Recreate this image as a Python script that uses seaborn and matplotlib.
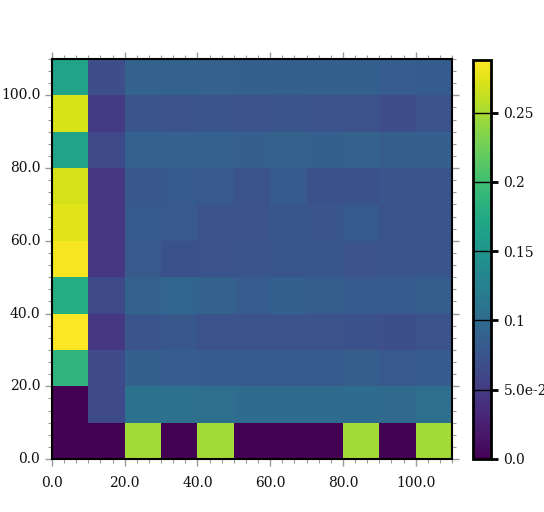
import numpy as np
import seaborn as sns
import matplotlib
matplotlib.use('Agg')
from matplotlib import pyplot as plt
from matplotlib.ticker import MultipleLocator, FuncFormatter

'''

Data: 11x11 grid, rows listed from y=0 (bottom) to y=100 (top)

'''
x_edges = [0, 10, 20, 30, 40, 50, 60, 70, 80, 90, 100, 110]
row_00 = [0.0, 0.0, 0.248, 0.0, 0.248, 0.0, 0.0, 0.0, 0.248, 0.0, 0.248]
row_10 = [0.0, 0.063, 0.107, 0.106, 0.104, 0.099, 0.099, 0.099, 0.100, 0.097, 0.103]
row_20 = [0.187, 0.065, 0.087, 0.084, 0.081, 0.081, 0.081, 0.082, 0.085, 0.079, 0.082]
row_30 = [0.288, 0.045, 0.076, 0.078, 0.072, 0.072, 0.072, 0.072, 0.071, 0.069, 0.072]
row_40 = [0.178, 0.063, 0.090, 0.093, 0.089, 0.084, 0.087, 0.085, 0.081, 0.082, 0.085]
row_50 = [0.284, 0.045, 0.079, 0.071, 0.073, 0.076, 0.077, 0.077, 0.072, 0.074, 0.075]
row_60 = [0.275, 0.045, 0.080, 0.079, 0.073, 0.073, 0.077, 0.075, 0.080, 0.074, 0.074]
row_70 = [0.269, 0.045, 0.078, 0.080, 0.079, 0.074, 0.081, 0.071, 0.071, 0.076, 0.074]
row_80 = [0.167, 0.063, 0.088, 0.088, 0.088, 0.086, 0.089, 0.087, 0.089, 0.085, 0.086]
row_90 = [0.270, 0.050, 0.076, 0.072, 0.076, 0.073, 0.075, 0.072, 0.073, 0.068, 0.072]
row_100 = [0.167, 0.068, 0.089, 0.089, 0.088, 0.087, 0.087, 0.087, 0.087, 0.084, 0.083]

axis_ticks = [0, 20, 40, 60, 80, 100]
cbar_ticks = [0.0, 0.05, 0.1, 0.15, 0.2, 0.25]
cbar_labels = ['0.0', '5.0e-2', '0.1', '0.15', '0.2', '0.25']

grid = np.array([row_00, row_10, row_20, row_30, row_40, row_50,
                 row_60, row_70, row_80, row_90, row_100])

plt.rcParams['font.family'] = ['DejaVu Serif']
plt.rcParams['font.size'] = 10

fig = plt.figure(figsize=(5.44, 5.12), dpi=100)
ax = fig.add_axes([52/544, 53/512, 400/544, 400/512])
cax = fig.add_axes([473/544, 53/512, 18/544, 399/512])

sns.heatmap(grid, ax=ax, cbar_ax=cax, cmap='viridis', vmin=0, vmax=grid.max(),
            square=False, linewidths=0)
# heatmap draws row 0 at top, flip so y grows upwards
ax.invert_yaxis()

cell = x_edges[1] - x_edges[0]
ax.set_xlim(0, len(x_edges) - 1)
ax.set_ylim(0, len(x_edges) - 1)
fmt = FuncFormatter(lambda v, pos: '%.1f' % (v * cell))
for a in [ax.xaxis, ax.yaxis]:
    a.set_major_locator(MultipleLocator(axis_ticks[1] / cell))
    a.set_minor_locator(MultipleLocator(1 / 3))
    a.set_major_formatter(fmt)
ax.set_xlabel('')
ax.set_ylabel('')
ax.tick_params(which='both', direction='out', color='#999999',
               top=True, right=True, labeltop=False, labelright=False,
               labelrotation=0)
ax.tick_params(which='major', length=5, width=1, labelsize=10, labelcolor='#111111')
ax.tick_params(axis='x', which='major', pad=7)
ax.tick_params(axis='y', which='major', pad=3.5)
ax.tick_params(which='minor', length=3, width=0.8)
for s in ax.spines.values():
    s.set_visible(True)
    s.set_color('black')
    s.set_linewidth(1.5)

# colorbar styling
cb = ax.collections[0].colorbar
cb.set_ticks(cbar_ticks)
cb.set_ticklabels(cbar_labels)
cb.outline.set_visible(True)
cb.outline.set_edgecolor('black')
cb.outline.set_linewidth(2)
cax.tick_params(direction='out', length=5, width=2, color='black', pad=4,
                labelsize=10, labelcolor='#111111')
for t in cbar_ticks[1:]:
    cax.axhline(t, color='black', lw=1)

plt.savefig('out.png', dpi=100)
plt.close()
